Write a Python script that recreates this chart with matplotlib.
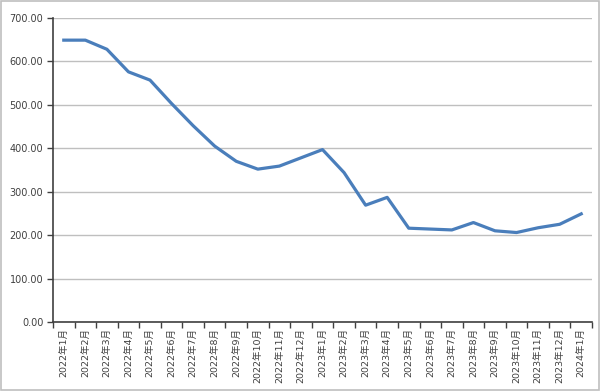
import matplotlib
matplotlib.use("Agg")
import matplotlib.pyplot as plt
from matplotlib.patches import Rectangle
import numpy as np

categories = ["2022年1月", "2022年2月", "2022年3月", "2022年4月", "2022年5月", "2022年6月",
              "2022年7月", "2022年8月", "2022年9月", "2022年10月", "2022年11月", "2022年12月",
              "2023年1月", "2023年2月", "2023年3月", "2023年4月", "2023年5月", "2023年6月",
              "2023年7月", "2023年8月", "2023年9月", "2023年10月", "2023年11月", "2023年12月",
              "2024年1月"]
values = [649, 649, 628, 576, 557, 503, 452, 405, 370, 352, 359, 378,
          397, 344, 269, 287, 216, 214, 212, 229, 210, 206, 217, 225, 249]
yticks = [0, 100, 200, 300, 400, 500, 600, 700]

plt.rcParams['font.family'] = ['DejaVu Sans', 'Noto Sans CJK SC']

fig = plt.figure(figsize=(6, 3.91), dpi=100)
fig.patches.append(Rectangle((0.002, 0.002), 0.996, 0.996, transform=fig.transFigure,
                             fill=False, edgecolor='#BFBFBF', linewidth=1.2))
W, H = 600, 391
ax = fig.add_axes([53 / W, (H - 322) / H, (592 - 53) / W, (322 - 18) / H])

x = np.arange(len(categories))
ax.plot(x, values, color='#4A7EBB', linewidth=2.3, solid_joinstyle='round')

ax.set_xlim(-0.5, len(categories) - 0.5)
ax.set_ylim(0, 700)
ax.set_yticks(yticks)
ax.set_yticklabels([f"{v:.2f}" for v in yticks], fontsize=7, color='#404040')
ax.yaxis.grid(True, color='#BFBFBF', linewidth=1)
ax.set_axisbelow(True)

ax.set_xticks(x)
ax.set_xticklabels(categories, rotation=90, fontsize=6.8, color='#404040')
ax.set_xticks(np.arange(len(categories) + 1) - 0.5, minor=True)
ax.tick_params(axis='x', which='major', length=0, pad=4)
ax.tick_params(axis='x', which='minor', length=4, width=1, color='#404040')
ax.tick_params(axis='y', length=4, width=1, color='#404040', pad=3)

for s in ['top', 'right']:
    ax.spines[s].set_visible(False)
for s in ['left', 'bottom']:
    ax.spines[s].set_color('#404040')
    ax.spines[s].set_linewidth(1.2)

fig.savefig('out.png', dpi=100)
